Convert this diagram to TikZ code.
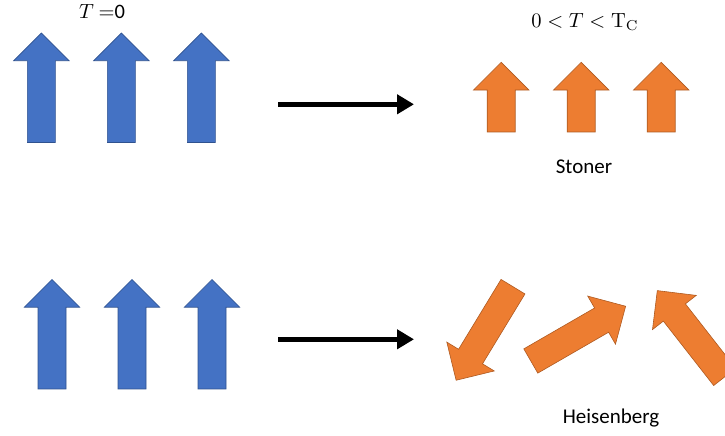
\documentclass[tikz,border=0pt]{standalone}
\usepackage{graphicx}
\usepackage[no-math]{fontspec}
\setmainfont{Carlito}
\usetikzlibrary{arrows.meta}
\definecolor{coldfill}{HTML}{4472C4}
\definecolor{coldline}{HTML}{2F528F}
\definecolor{hotfill}{HTML}{ED7D31}
\definecolor{hotline}{HTML}{AE5A21}
\newcommand{\biglabel}[1]{\scalebox{2.05}{#1}}
\begin{document}
\begin{tikzpicture}[x=1pt,y=1pt,
  % block arrow along +x: tail centre at the origin, total length #1
  spin/.pic={
    \path[pic actions] (0,-14) -- ({#1-27.75},-14) -- ({#1-27.75},-27.75)
      -- (#1,0) -- ({#1-27.75},27.75) -- ({#1-27.75},14) -- (0,14) -- cycle;
  },
  coldspin/.style={draw=coldline, fill=coldfill, line width=0.6pt},
  hotspin/.style={draw=hotline, fill=hotfill, line width=0.6pt},
  transition/.style={draw=black, line width=5pt,
    -{Triangle[length=17pt,width=19pt]}},
  label/.style={inner sep=0pt, font=\fontsize{21}{25}\selectfont},
  mathlabel/.style={inner sep=0pt, font=\normalsize},
]
\useasboundingbox (0,0) rectangle (725,436);
\clip (0,0) rectangle (725,436);

% T = 0, ordered spins (top row)
\node[mathlabel] (tzero) at (102,424) {\biglabel{$T\ {=}$0}};
\pic[coldspin, rotate=90] at (41.4,293.5) {spin=109.5};
\pic[coldspin, rotate=90] at (121.4,293.5) {spin=109.5};
\pic[coldspin, rotate=90] at (201.4,293.5) {spin=109.5};

% Stoner: shrunken moments
\node[mathlabel] (tfinite) at (585,414) {\biglabel{$0<T<\mathrm{T_C}$}};
\pic[hotspin, rotate=90] at (501.2,304) {spin=69.7};
\pic[hotspin, rotate=90] at (581.2,304) {spin=69.7};
\pic[hotspin, rotate=90] at (661.2,304) {spin=69.7};
\node[label] (stoner) at (584,269) {Stoner};

% T = 0, ordered spins (bottom row)
\pic[coldspin, rotate=90] at (52,47) {spin=109.5};
\pic[coldspin, rotate=90] at (132,47) {spin=109.5};
\pic[coldspin, rotate=90] at (212,47) {spin=109.5};

% Heisenberg: tilted moments of full length
\pic[hotspin, rotate=238.7] at (513,149.3) {spin=109.5};
\pic[hotspin, rotate=30] at (530.8,75) {spin=109.5};
\pic[hotspin, rotate=128] at (724.7,59.1) {spin=109.5};
\node[label] (heis) at (611,18) {Heisenberg};

% transitions
\coordinate (topfrom) at (278,331.7);
\coordinate (topto) at (414,331.7);
\coordinate (botfrom) at (278,96.7);
\coordinate (botto) at (414,96.7);
\draw[transition] (topfrom) -- (topto);
\draw[transition] (botfrom) -- (botto);
\end{tikzpicture}
\end{document}
